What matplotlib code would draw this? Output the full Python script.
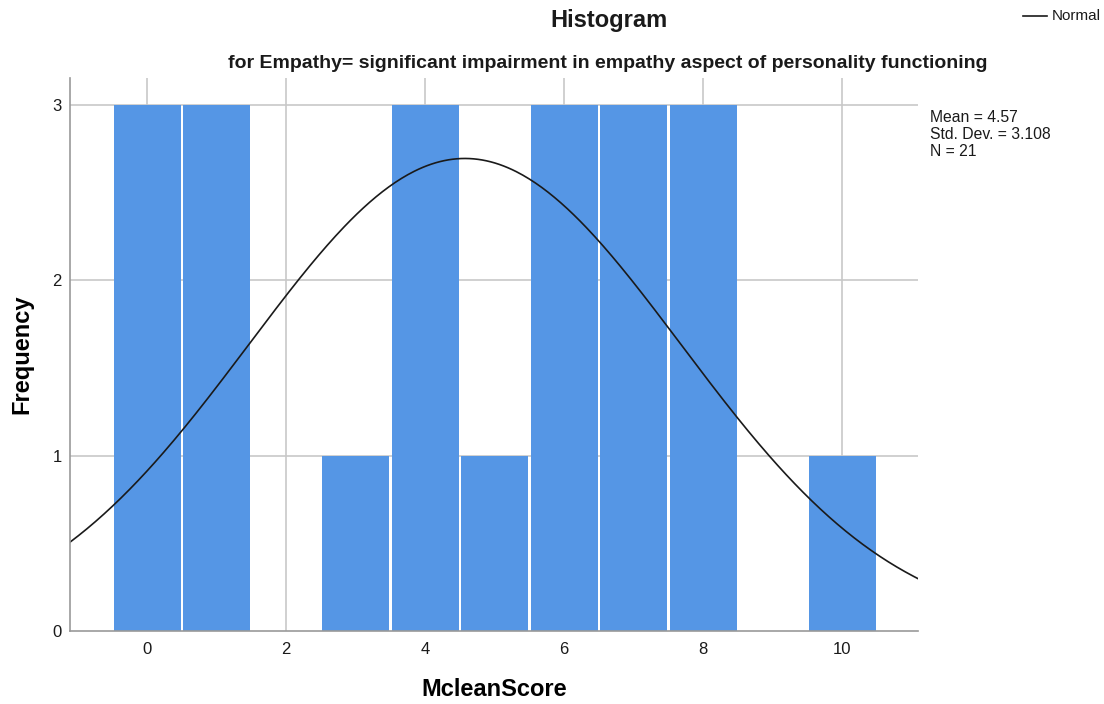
import numpy as np
import matplotlib
matplotlib.use("Agg")
import matplotlib.pyplot as plt

plt.rcParams['font.family'] = ['Liberation Sans', 'DejaVu Sans']

# Data
scores = [0, 1, 3, 4, 5, 6, 7, 8, 10]
frequencies = [3, 3, 1, 3, 1, 3, 3, 3, 1]
x_ticks = [0, 2, 4, 6, 8, 10]
y_ticks = [0, 1, 2, 3]
title = "Histogram"
subtitle = "for Empathy= significant impairment in empathy aspect of personality functioning"
stats_text = "Mean = 4.57\nStd. Dev. = 3.108\nN = 21"

vals = np.repeat(scores, frequencies)
n = len(vals)
mean = vals.mean()
sd = vals.std(ddof=1)

fig = plt.figure(figsize=(11.04, 7.04), dpi=100)
ax = fig.add_axes([70/1104, 1-631/704, (918-70)/1104, (631-78)/704])

ax.set_xlim(-1.11, 11.09)
ax.set_ylim(0, 3.155)

grid_c = '#c8c8c8'
for t in x_ticks:
    ax.axvline(t, color=grid_c, lw=1.2, zorder=0)
for t in y_ticks[1:]:
    ax.axhline(t, color=grid_c, lw=1.2, zorder=0)

ax.bar(scores, frequencies, width=0.965, color='#5596e5', linewidth=0, zorder=2)

xs = np.linspace(-1.11, 11.09, 400)
ys = n * 1.0 * np.exp(-0.5 * ((xs - mean) / sd) ** 2) / (sd * np.sqrt(2 * np.pi))
ax.plot(xs, ys, color='#1a1a1a', lw=1.2, zorder=3)

for s in ['top', 'right']:
    ax.spines[s].set_visible(False)
for s in ['left', 'bottom']:
    ax.spines[s].set_color('#999999')
    ax.spines[s].set_linewidth(1.2)
    ax.spines[s].set_zorder(4)

ax.set_xticks(x_ticks)
ax.set_yticks(y_ticks)
ax.tick_params(length=0, labelsize=12, colors='#1a1a1a')
ax.tick_params(axis='x', pad=8)
ax.tick_params(axis='y', pad=6)

ax.set_xlabel("McleanScore", fontsize=17, fontweight='bold', va='center')
ax.set_ylabel("Frequency", fontsize=17, fontweight='bold', va='center')
ax.xaxis.set_label_coords((494-70)/848, (631-690)/553)
ax.yaxis.set_label_coords((22-70)/848, (631-354)/553)

fig.text(609/1104, 1-21/704, title, ha='center', va='center', fontsize=17,
         fontweight='bold', color='#1a1a1a')
fig.text(608/1104, 1-64/704, subtitle, ha='center', va='center', fontsize=14,
         fontweight='bold', color='#1a1a1a')

fig.text(930/1104, 1-110/704, stats_text, ha='left', va='top', fontsize=11.3,
         color='#1a1a1a', linespacing=1.15)

# Legend
fig.lines.append(matplotlib.lines.Line2D([1023/1104, 1047/1104], [1-16/704, 1-16/704],
                                         transform=fig.transFigure, color='#1a1a1a', lw=1.2))
fig.text(1052/1104, 1-16/704, "Normal", ha='left', va='center', fontsize=11, color='#1a1a1a')

fig.savefig("out.png", dpi=100)
